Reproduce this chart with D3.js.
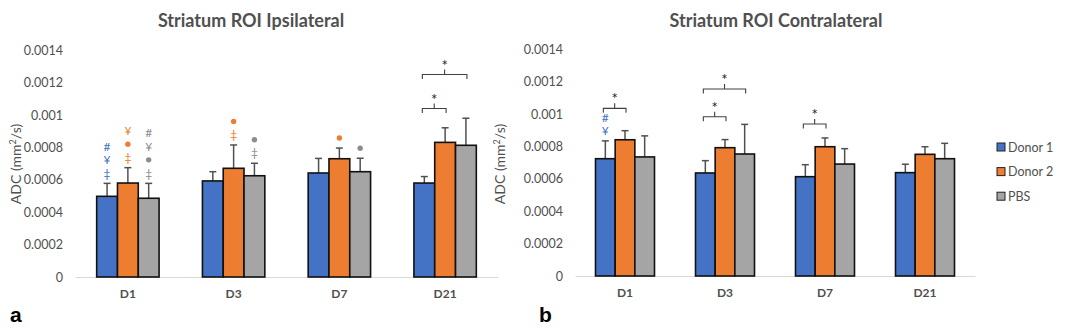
<!DOCTYPE html>
<html>
<head>
<meta charset="utf-8">
<script src="https://cdn.jsdelivr.net/npm/d3@7"></script>
<style>
  body { margin: 0; background: #fff; }
  svg { display: block; font-family: Lato, "Open Sans", sans-serif; }
</style>
</head>
<body>
<div id="chart-area"></div>
<script>
// data
var days = ["D1", "D3", "D7", "D21"];
var series = ["Donor 1", "Donor 2", "PBS"];
var colors = ["#4472C4", "#ED7D31", "#A5A5A5"];
var yTicks = [0, 0.0002, 0.0004, 0.0006, 0.0008, 0.001, 0.0012, 0.0014];

// ipsilateral
var ipsiDonor1 = [0.000498, 0.000593, 0.000642, 0.000580];
var ipsiDonor2 = [0.000580, 0.000671, 0.000730, 0.000831];
var ipsiPBS    = [0.000486, 0.000625, 0.000650, 0.000813];
var ipsiErr1 = [0.000080, 0.000057, 0.000090, 0.000040];
var ipsiErr2 = [0.000095, 0.000144, 0.000066, 0.000090];
var ipsiErrP = [0.000092, 0.000077, 0.000083, 0.000167];

// contralateral
var contraDonor1 = [0.000724, 0.000636, 0.000613, 0.000638];
var contraDonor2 = [0.000841, 0.000792, 0.000798, 0.000751];
var contraPBS    = [0.000735, 0.000753, 0.000691, 0.000724];
var contraErr1 = [0.000110, 0.000076, 0.000074, 0.000052];
var contraErr2 = [0.000056, 0.000050, 0.000054, 0.000047];
var contraErrP = [0.000130, 0.000183, 0.000095, 0.000095];

// symbols over bars (top to bottom): [day, series index, symbols]
var ipsiMarks = [
    ["D1", 0, ["#", "¥", "‡"]],
    ["D1", 1, ["¥", "●", "‡"]],
    ["D1", 2, ["#", "¥", "●", "‡"]],
    ["D3", 1, ["●", "‡"]],
    ["D3", 2, ["●", "‡"]],
    ["D7", 1, ["●"]],
    ["D7", 2, ["●"]]
];
var contraMarks = [
    ["D1", 0, ["#", "¥"]]
];

// significance brackets: [day, from series, to series, level (ADC)]
var ipsiBrackets = [
    ["D21", 0, 1, 0.00104],
    ["D21", 0, 2, 0.00125]
];
var contraBrackets = [
    ["D1", 0, 1, 0.001035],
    ["D3", 0, 1, 0.000983],
    ["D3", 0, 2, 0.001154],
    ["D7", 0, 1, 0.000938]
];

var width = 1086, height = 333;
var textGray = "#505050";

var svg = d3.select("#chart-area").append("svg")
    .attr("width", width)
    .attr("height", height);

function drawPanel(p) {
    var g = svg.append("g");

    var x = d3.scaleBand().domain(days).range([p.left, p.right]).padding(0);
    var groupW = x.bandwidth() * 0.59;
    var xs = d3.scaleBand().domain([0, 1, 2]).range([0, groupW]).padding(0);
    var y = d3.scaleLinear().domain([0, 0.0014]).range([p.base, p.base - 7 * 32.4]);

    function barX(day, s) {
        return x(day) + (x.bandwidth() - groupW) / 2 + xs(s);
    }
    function barMid(day, s) {
        return barX(day, s) + xs.bandwidth() / 2;
    }

    // left axis (labels only)
    var leftAxis = d3.axisLeft(y)
        .tickValues(yTicks)
        .tickSize(0)
        .tickPadding(12)
        .tickFormat(function(d) { return String(+d.toFixed(4)); });
    var yAxisGroup = g.append("g")
        .attr("transform", "translate(" + p.left + ",0)")
        .call(leftAxis);
    yAxisGroup.select(".domain").remove();
    yAxisGroup.selectAll("text")
        .attr("fill", textGray)
        .attr("font-size", "12.5px")
        .attr("font-family", "Lato, sans-serif");

    // bottom axis
    var bottomAxis = d3.axisBottom(x).tickSize(0).tickSizeOuter(0).tickPadding(12);
    var xAxisGroup = g.append("g")
        .attr("transform", "translate(0," + p.base + ")")
        .call(bottomAxis);
    xAxisGroup.select(".domain").attr("stroke", "#D9D9D9").attr("stroke-width", 1.2);
    xAxisGroup.selectAll("text")
        .attr("fill", textGray)
        .attr("font-size", "12px")
        .attr("font-weight", "bold")
        .attr("font-family", "Lato, sans-serif");

    // bars
    var rows = [];
    days.forEach(function(d, i) {
        p.values.forEach(function(vals, s) {
            rows.push({day: d, s: s, v: vals[i], e: p.errs[s][i]});
        });
    });

    // error bars (upwards only)
    var eb = g.selectAll(".err").data(rows).enter().append("g").attr("class", "err")
        .attr("stroke", "#505050").attr("stroke-width", 1.5);
    eb.append("line")
        .attr("x1", function(d) { return barMid(d.day, d.s); })
        .attr("x2", function(d) { return barMid(d.day, d.s); })
        .attr("y1", function(d) { return y(d.v); })
        .attr("y2", function(d) { return y(d.v + d.e); });
    eb.append("line")
        .attr("x1", function(d) { return barMid(d.day, d.s) - 3.5; })
        .attr("x2", function(d) { return barMid(d.day, d.s) + 3.5; })
        .attr("y1", function(d) { return y(d.v + d.e); })
        .attr("y2", function(d) { return y(d.v + d.e); });

    g.selectAll(".bar").data(rows).enter().append("rect")
        .attr("class", "bar")
        .attr("x", function(d) { return barX(d.day, d.s); })
        .attr("y", function(d) { return y(d.v); })
        .attr("width", xs.bandwidth())
        .attr("height", function(d) { return p.base - y(d.v); })
        .attr("fill", function(d) { return colors[d.s]; })
        .attr("stroke", "#111")
        .attr("stroke-width", 1.6);

    // symbols above error bars
    p.marks.forEach(function(m) {
        var i = days.indexOf(m[0]);
        var top = y(p.values[m[1]][i] + p.errs[m[1]][i]);
        var n = m[2].length;
        m[2].forEach(function(sym, k) {
            var cy = top - 10 - (n - 1 - k) * 13.5;
            var col = m[1] === 2 ? "#8C8C8C" : colors[m[1]];
            if (sym === "●") {
                g.append("circle")
                    .attr("cx", barMid(m[0], m[1]))
                    .attr("cy", cy)
                    .attr("r", 2.7)
                    .attr("fill", col);
            } else {
                g.append("text")
                    .attr("x", barMid(m[0], m[1]))
                    .attr("y", cy)
                    .attr("dy", "0.35em")
                    .attr("text-anchor", "middle")
                    .attr("font-size", "12px")
                    .attr("fill", col)
                    .text(sym);
            }
        });
    });

    // brackets with stars
    p.brackets.forEach(function(b) {
        var x1 = barMid(b[0], b[1]) - 2;
        var x2 = barMid(b[0], b[2]) + 1;
        var yy = y(b[3]);
        var mid = (x1 + x2) / 2;
        g.append("path")
            .attr("d", "M" + x1 + "," + (yy + 4.5) + "V" + yy + "H" + x2 + "V" + (yy + 4.5) +
                       "M" + mid + "," + yy + "V" + (yy - 5))
            .attr("fill", "none")
            .attr("stroke", "#404040")
            .attr("stroke-width", 1.1);
        g.append("text")
            .attr("x", mid)
            .attr("y", yy - 4)
            .attr("text-anchor", "middle")
            .attr("font-size", "15px")
            .attr("fill", "#222")
            .text("*");
    });

    // title
    g.append("text")
        .attr("x", p.titleX)
        .attr("y", 27)
        .attr("text-anchor", "middle")
        .attr("font-size", "18px")
        .attr("font-weight", "bold")
        .attr("fill", textGray)
        .text(p.title);

    // y axis label
    var yl = g.append("text")
        .attr("transform", "translate(" + p.ylabX + ",164) rotate(-90)")
        .attr("text-anchor", "middle")
        .attr("dy", "0.35em")
        .attr("font-size", "14px")
        .attr("fill", textGray);
    yl.append("tspan").text("ADC (mm");
    yl.append("tspan").attr("font-size", "9px").attr("dy", "-0.5em").text("2");
    yl.append("tspan").attr("dy", "0.35em").text("/s)");

    // panel letter
    g.append("text")
        .attr("x", p.letterX)
        .attr("y", 322)
        .attr("font-size", "21px")
        .attr("font-weight", "bold")
        .attr("fill", "#000")
        .attr("font-family", "Liberation Sans, Arial, sans-serif")
        .text(p.letter);
}

drawPanel({
    left: 75, right: 498, base: 277,
    values: [ipsiDonor1, ipsiDonor2, ipsiPBS],
    errs: [ipsiErr1, ipsiErr2, ipsiErrP],
    marks: ipsiMarks, brackets: ipsiBrackets,
    title: "Striatum ROI Ipsilateral", titleX: 251,
    ylabX: 16, letter: "a", letterX: 10
});

drawPanel({
    left: 575, right: 975, base: 276,
    values: [contraDonor1, contraDonor2, contraPBS],
    errs: [contraErr1, contraErr2, contraErrP],
    marks: contraMarks, brackets: contraBrackets,
    title: "Striatum ROI Contralateral", titleX: 776,
    ylabX: 500, letter: "b", letterX: 539
});

// legend
var legend = svg.append("g").attr("transform", "translate(997,147)");
series.forEach(function(s, i) {
    var row = legend.append("g").attr("transform", "translate(0," + (i * 24.6) + ")");
    row.append("rect")
        .attr("x", 0).attr("y", -4)
        .attr("width", 8).attr("height", 8)
        .attr("fill", colors[i])
        .attr("stroke", "#222")
        .attr("stroke-width", 1);
    row.append("text")
        .attr("x", 11)
        .attr("dy", "0.36em")
        .attr("font-size", "12.5px")
        .attr("fill", textGray)
        .text(s);
});
</script>
</body>
</html>
